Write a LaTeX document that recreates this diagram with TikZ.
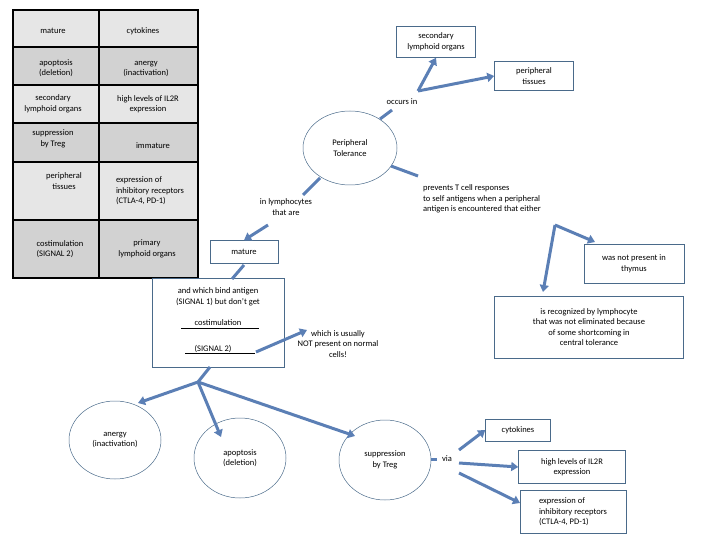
\documentclass[tikz,border=0pt]{standalone}
\usepackage{fontspec}
\setmainfont{Carlito}
\usetikzlibrary{arrows.meta,shapes.geometric}
\definecolor{arr}{HTML}{5B7FB5}
\definecolor{edge}{HTML}{4A6A8A}
\definecolor{lg}{HTML}{E6E6E6}
\definecolor{dg}{HTML}{D2D2D2}
\begin{document}
\begin{tikzpicture}[x=1pt,y=-1pt,font=\fontsize{8.5}{10.5}\selectfont,
 box/.style={draw=edge,line width=0.5pt,align=center,inner sep=0pt},
 ell/.style={draw=edge,line width=0.5pt,ellipse},
 lab/.style={align=center,inner sep=1pt},
 con/.style={draw=arr,line width=3pt},
 arw/.style={con,-{Triangle[length=7pt,width=9pt]}}]
\useasboundingbox (0,0) rectangle (720,540);
% table
\foreach \y/\h/\c in {10/37/lg,47/38/dg,85/38/lg,123/39/dg,162/58/lg,220/58/dg}{
 \fill[\c] (13,\y) rectangle (198,\y+\h);}
\draw[line width=1.5pt] (13,10) rectangle (198,278);
\draw[line width=1.5pt] (99,10) -- (99,278);
\foreach \y in {47,85,123,162,220}{\draw[line width=1.5pt] (13,\y) -- (198,\y);}
\node[lab] (t11) at (53,31) {mature};
\node[lab] (t12) at (143,31) {cytokines};
\node[lab] (t21) at (56,68) {apoptosis\\(deletion)};
\node[lab] (t22) at (146,69) {anergy\\(inactivation)};
\node[lab] (t31) at (53,104) {secondary\\lymphoid organs};
\node[lab] (t32) at (148,104) {high levels of IL2R\\expression};
\node[lab] (t41) at (53,139) {suppression\\by Treg};
\node[lab] (t42) at (153,146) {immature};
\node[lab] (t51) at (64,181) {peripheral\\tissues};
\node[lab,align=left] (t52) at (150,191) {expression of\\inhibitory receptors\\(CTLA-4, PD-1)};
\node[lab,align=left] (t61) at (60,249) {costimulation\\(SIGNAL 2)};
\node[lab] (t62) at (147,249) {primary\\lymphoid organs};
% main
\node[ell,minimum width=94pt,minimum height=74pt,lab] (pt) at (350,148) {Peripheral\\Tolerance};
\node[box,minimum width=79pt,minimum height=31pt] (slo) at (436,42) {secondary\\lymphoid organs};
\node[box,minimum width=79pt,minimum height=29pt] (ptis) at (534,76) {peripheral\\tissues};
\node[lab] (occ) at (402,102) {occurs in};
\coordinate (o1) at (380,119); \coordinate (o2) at (392,110);
\coordinate (ob) at (418,91);
\draw[con] (o1) -- (o2);
\draw[arw] (ob) -- (slo.south);
\draw[arw] (ob) -- (ptis.west);
\node[lab,align=left] (prev) at (482,199) {prevents T cell responses\\to self antigens when a peripheral\\antigen is encountered that either};
\coordinate (p1) at (391,166); \coordinate (p2) at (418,176);
\draw[con] (p1) -- (p2);
\coordinate (pb) at (555,225);
\node[box,minimum width=100pt,minimum height=39pt] (thy) at (634,264) {was not present in\\thymus};
\node[box,minimum width=189pt,minimum height=62pt] (rec) at (589,327) {is recognized by lymphocyte\\that was not eliminated because\\of some shortcoming in\\central tolerance};
\draw[arw] (pb) -- (595,242);
\draw[arw] (pb) -- (543,292);
\node[lab] (inl) at (286,207) {in lymphocytes\\that are};
\coordinate (i1) at (320,178); \coordinate (i2) at (303,195);
\draw[con] (i1) -- (i2);
\node[box,minimum width=68pt,minimum height=23pt] (mat) at (244,252) {mature};
\coordinate (i3) at (268,225);
\draw[arw] (i3) -- (mat.north);
\node[box,minimum width=132pt,minimum height=89pt] (big) at (218,323) {};
\node[lab] (b1) at (218,297) {and which bind antigen\\(SIGNAL 1) but don't get};
\node[lab] (b2) at (218,323) {costimulation};
\draw[line width=0.8pt] (181,328) -- (259,328);
\node[lab] (b3) at (213,349) {(SIGNAL 2)};
\draw[line width=0.8pt] (185,353) -- (255,353);
\coordinate (m1) at (244,265); \coordinate (m2) at (232,279);
\draw[con] (m1) -- (m2);
\node[lab] (usu) at (338,344) {which is usually\\NOT present on normal\\cells!};
\coordinate (s1) at (256,352);
\draw[arw] (s1) -- (307,330);
\coordinate (bb) at (198,382);
\draw[con] (210,367) -- (bb);
\node[ell,minimum width=92pt,minimum height=78pt,lab] (ane) at (115,440) {anergy\\(inactivation)};
\node[ell,minimum width=92pt,minimum height=80pt,lab] (apo) at (240,458) {apoptosis\\(deletion)};
\node[ell,minimum width=92pt,minimum height=80pt,lab] (sup) at (385,460) {suppression\\by Treg};
\draw[arw] (bb) -- (138,403);
\draw[arw] (bb) -- (221,437);
\draw[arw] (bb) -- (355,436);
\node[lab] (via) at (447,459) {via};
\draw[con] (431,459) -- (437,459);
\node[box,minimum width=65pt,minimum height=22pt] (cyt) at (518,430) {cytokines};
\node[box,minimum width=107pt,minimum height=33pt] (il2) at (572,467) {high levels of IL2R\\expression};
\node[box,minimum width=106pt,minimum height=43pt,align=left] (exp) at (573,512) {expression of\\inhibitory receptors\\(CTLA-4, PD-1)};
\draw[arw] (459,450) -- (cyt.west);
\draw[arw] (459,463) -- (il2.west);
\draw[arw] (459,473) -- (520,503);
\end{tikzpicture}
\end{document}
